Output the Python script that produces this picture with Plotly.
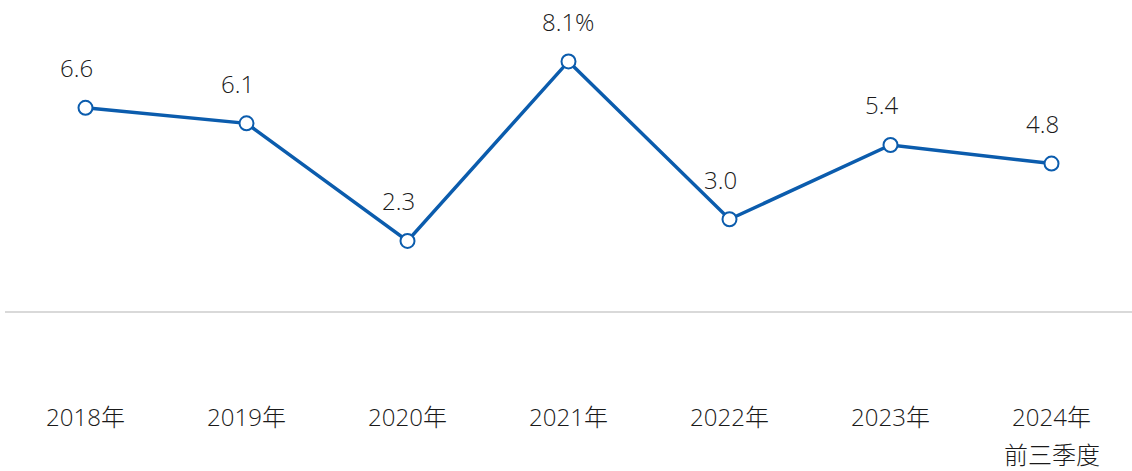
import plotly.graph_objects as go

years = ["2018年", "2019年", "2020年", "2021年", "2022年", "2023年", "2024年"]
growth = [6.6, 6.1, 2.3, 8.1, 3.0, 5.4, 4.8]
labels = ["6.6", "6.1", "2.3", "8.1%", "3.0", "5.4", "4.8"]
last_note = "前三季度"

blue = "#0b5cad"
font_family = "Open Sans, Noto Sans CJK SC, sans-serif"
text_color = "#1a1a1a"

fig = go.Figure()
fig.add_trace(go.Scatter(
    x=years, y=growth, mode="lines+markers",
    line=dict(color=blue, width=3.5),
    marker=dict(size=14, color="white", line=dict(color=blue, width=2)),
    hoverinfo="skip", showlegend=False
))

for x, y, t in zip(years, growth, labels):
    fig.add_annotation(
        x=x, y=y, text=t, showarrow=False,
        yshift=40, xshift=0 if t.endswith("%") else -9,
        font=dict(size=24, color=text_color, family=font_family, weight=300)
    )

# second line under the last tick label
fig.add_annotation(
    x=years[-1], y=0, yref="paper", text=last_note, showarrow=False,
    yanchor="middle", yshift=-63, borderpad=0,
    font=dict(size=24, color=text_color, family=font_family, weight=300)
)

fig.update_xaxes(
    range=[-0.5, 6.5], automargin=False,
    showgrid=False, showline=False, ticks="", ticklabelstandoff=10,
    tickfont=dict(size=24, color=text_color, family=font_family, weight=300)
)
fig.update_yaxes(
    range=[-2.55, 9.73], automargin=False,
    showgrid=False, showticklabels=False,
    zeroline=True, zerolinecolor="#d9d9d9", zerolinewidth=2
)
fig.update_layout(
    width=1132, height=471,
    margin=dict(l=5, r=0, t=11, b=80),
    plot_bgcolor="white", paper_bgcolor="white",
    font=dict(family=font_family, color=text_color)
)

fig.write_html(
    "out.html",
    config={"displayModeBar": False},
    post_script="document.body.style.margin='0';document.body.style.overflow='hidden';"
)
